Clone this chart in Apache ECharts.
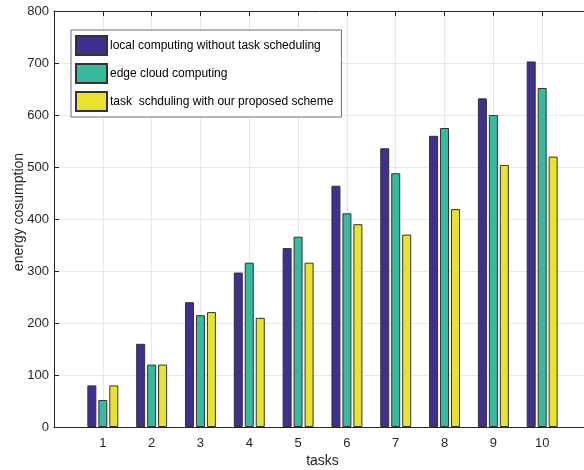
<!DOCTYPE html>
<html>
<head>
<meta charset="utf-8">
<script src="https://cdn.jsdelivr.net/npm/echarts@6/dist/echarts.min.js"></script>
<style>
html,body{margin:0;padding:0;background:#fff;}
#main{width:584px;height:470px;}
</style>
</head>
<body>
<div id="main"></div>
<script>
const categories = [1, 2, 3, 4, 5, 6, 7, 8, 9, 10];
const seriesNames = [
  'local computing without task scheduling',
  'edge cloud computing',
  'task  schduling with our proposed scheme'
];
const localValues = [80, 160, 240, 297, 344, 464, 536, 560, 632, 703];
const edgeValues = [52, 120, 215, 316, 366, 411, 488, 575, 600, 652];
const proposedValues = [80, 120, 221, 210, 316, 390, 370, 419, 504, 520];
const yTicks = [0, 100, 200, 300, 400, 500, 600, 700, 800];
const colors = ['#3F2F8E', '#38B99E', '#E9E232'];

const font = '"Liberation Sans", Arial, Helvetica, sans-serif';
const chart = echarts.init(document.getElementById('main'), null, {renderer: 'canvas'});

function pairs(vals) { return categories.map((c, i) => [c, vals[i]]); }
const allVals = [localValues, edgeValues, proposedValues];

const option = {
  animation: false,
  backgroundColor: '#ffffff',
  textStyle: {fontFamily: font},
  grid: {left: 54, right: -7, top: 11, bottom: 43, containLabel: false, outerBoundsMode: 'none'},
  legend: {
    orient: 'vertical',
    left: 71, top: 30,
    padding: [5, 8, 5, 4],
    icon: 'rect',
    itemWidth: 31, itemHeight: 19, itemGap: 7,
    backgroundColor: '#ffffff',
    borderColor: '#6e6e6e', borderWidth: 1,
    textStyle: {fontFamily: font, fontSize: 12, color: '#000000', padding: [0, 0, 0, -2]},
    data: seriesNames
  },
  xAxis: [{
    type: 'value', min: 0, max: 11, interval: 1,
    name: 'tasks', nameLocation: 'middle', nameGap: 27, nameMoveOverlap: false,
    nameTextStyle: {fontFamily: font, fontSize: 14, color: '#262626'},
    axisLine: {show: true, onZero: false, lineStyle: {color: '#262626', width: 1}},
    axisTick: {show: true, inside: true, length: 5, lineStyle: {color: '#262626'}},
    axisLabel: {
      fontFamily: font, fontSize: 13, color: '#262626', margin: 10,
      formatter: v => (categories.indexOf(v) >= 0 ? String(v) : '')
    },
    splitLine: {show: true, lineStyle: {color: '#e8e8e8', width: 1}}
  }, {
    type: 'value', min: 0, max: 11, interval: 1, position: 'top',
    axisLine: {show: true, onZero: false, lineStyle: {color: '#262626', width: 1}},
    axisTick: {show: true, inside: true, length: 5, lineStyle: {color: '#262626'}},
    axisLabel: {show: false},
    splitLine: {show: false}
  }],
  yAxis: [{
    type: 'value', min: 0, max: 800, interval: 100,
    name: 'energy cosumption', nameLocation: 'middle', nameGap: 28, nameMoveOverlap: false,
    nameTextStyle: {fontFamily: font, fontSize: 14, color: '#262626', padding: [0, 0, 0, 14]},
    axisLine: {show: true, lineStyle: {color: '#262626', width: 1}},
    axisTick: {show: true, inside: true, length: 5, lineStyle: {color: '#262626'}},
    axisLabel: {
      fontFamily: font, fontSize: 13, color: '#262626', margin: 5,
      formatter: v => (yTicks.indexOf(v) >= 0 ? String(v) : '')
    },
    splitLine: {show: true, lineStyle: {color: '#e8e8e8', width: 1}}
  }],
  series: seriesNames.map((name, k) => ({
    name: name,
    type: 'bar',
    xAxisIndex: 0,
    barWidth: 9,
    barGap: '22%',
    itemStyle: {color: colors[k], borderColor: '#333333', borderWidth: 1},
    data: pairs(allVals[k])
  }))
};
chart.setOption(option);
</script>
</body>
</html>
